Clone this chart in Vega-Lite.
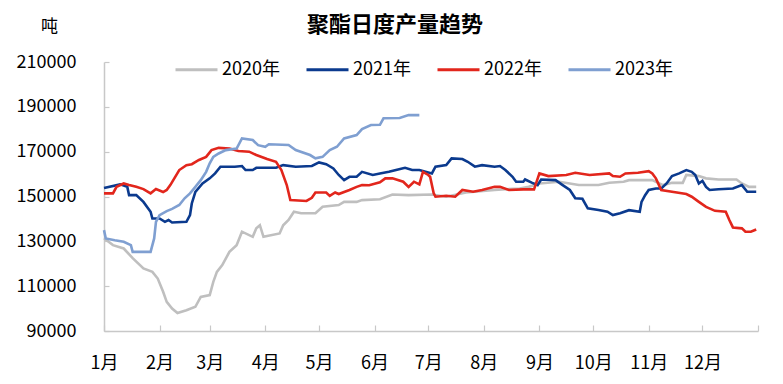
{
"$schema": "https://vega.github.io/schema/vega-lite/v6.json",
"width": 654, "height": 269,
"autosize": {"type": "none"},
"padding": {"left": 104, "top": 62, "right": 25, "bottom": 53},
"title": {"text": "聚酯日度产量趋势", "anchor": "start", "dx": 291, "fontSize": 22, "fontWeight": "bold", "color": "#000000", "offset": -20},
"data": {"format": {"parse": {"d": "date:'%Y-%m-%d'"}}, "values": [
{"s":"2020年","d":"2021-01-01","v":131400},{"s":"2020年","d":"2021-01-06","v":128300},{"s":"2020年","d":"2021-01-12","v":126800},{"s":"2020年","d":"2021-01-17","v":122500},{"s":"2020年","d":"2021-01-23","v":117900},{"s":"2020年","d":"2021-01-28","v":116400},{"s":"2020年","d":"2021-01-31","v":113400},{"s":"2020年","d":"2021-02-03","v":107500},{"s":"2020年","d":"2021-02-05","v":103000},{"s":"2020年","d":"2021-02-08","v":100000},{"s":"2020年","d":"2021-02-11","v":98000},{"s":"2020年","d":"2021-02-16","v":99300},{"s":"2020年","d":"2021-02-21","v":100800},{"s":"2020年","d":"2021-02-24","v":105200},{"s":"2020年","d":"2021-03-01","v":106000},{"s":"2020年","d":"2021-03-03","v":111900},{"s":"2020年","d":"2021-03-05","v":116400},{"s":"2020年","d":"2021-03-08","v":119400},{"s":"2020年","d":"2021-03-12","v":125300},{"s":"2020年","d":"2021-03-16","v":128300},{"s":"2020年","d":"2021-03-19","v":134300},{"s":"2020年","d":"2021-03-25","v":132000},{"s":"2020年","d":"2021-03-27","v":135800},{"s":"2020年","d":"2021-03-29","v":137200},{"s":"2020年","d":"2021-03-31","v":132000},{"s":"2020年","d":"2021-04-09","v":133500},{"s":"2020年","d":"2021-04-11","v":137200},{"s":"2020年","d":"2021-04-14","v":139500},{"s":"2020年","d":"2021-04-17","v":143200},{"s":"2020年","d":"2021-04-21","v":142500},{"s":"2020年","d":"2021-04-29","v":142500},{"s":"2020年","d":"2021-05-03","v":145400},{"s":"2020年","d":"2021-05-12","v":146200},{"s":"2020年","d":"2021-05-15","v":147600},{"s":"2020年","d":"2021-05-22","v":147600},{"s":"2020年","d":"2021-05-25","v":148400},{"s":"2020年","d":"2021-06-04","v":148800},{"s":"2020年","d":"2021-06-11","v":150900},{"s":"2020年","d":"2021-06-20","v":150600},{"s":"2020年","d":"2021-07-03","v":150900},{"s":"2020年","d":"2021-07-11","v":149900},{"s":"2020年","d":"2021-07-22","v":151800},{"s":"2020年","d":"2021-08-07","v":152900},{"s":"2020年","d":"2021-08-21","v":153600},{"s":"2020年","d":"2021-08-26","v":154300},{"s":"2020年","d":"2021-09-01","v":155800},{"s":"2020年","d":"2021-09-12","v":156600},{"s":"2020年","d":"2021-09-23","v":155100},{"s":"2020年","d":"2021-10-04","v":155100},{"s":"2020年","d":"2021-10-10","v":156100},{"s":"2020年","d":"2021-10-18","v":156600},{"s":"2020年","d":"2021-10-21","v":157300},{"s":"2020年","d":"2021-11-03","v":157300},{"s":"2020年","d":"2021-11-09","v":155100},{"s":"2020年","d":"2021-11-14","v":156100},{"s":"2020年","d":"2021-11-20","v":156100},{"s":"2020年","d":"2021-11-22","v":159600},{"s":"2020年","d":"2021-11-29","v":159100},{"s":"2020年","d":"2021-12-03","v":158100},{"s":"2020年","d":"2021-12-10","v":157600},{"s":"2020年","d":"2021-12-20","v":157600},{"s":"2020年","d":"2021-12-23","v":155800},{"s":"2020年","d":"2021-12-27","v":154300},{"s":"2020年","d":"2021-12-31","v":154300},
{"s":"2021年","d":"2021-01-01","v":153800},{"s":"2021年","d":"2021-01-10","v":155400},{"s":"2021年","d":"2021-01-14","v":154300},{"s":"2021年","d":"2021-01-15","v":150600},{"s":"2021年","d":"2021-01-19","v":150600},{"s":"2021年","d":"2021-01-23","v":147600},{"s":"2021年","d":"2021-01-27","v":143200},{"s":"2021年","d":"2021-01-28","v":140200},{"s":"2021年","d":"2021-02-01","v":140200},{"s":"2021年","d":"2021-02-04","v":138700},{"s":"2021年","d":"2021-02-06","v":139500},{"s":"2021年","d":"2021-02-08","v":138400},{"s":"2021年","d":"2021-02-16","v":138700},{"s":"2021年","d":"2021-02-18","v":141700},{"s":"2021年","d":"2021-02-19","v":146900},{"s":"2021年","d":"2021-02-21","v":152100},{"s":"2021年","d":"2021-02-25","v":155800},{"s":"2021年","d":"2021-03-01","v":158100},{"s":"2021年","d":"2021-03-04","v":160300},{"s":"2021年","d":"2021-03-07","v":163300},{"s":"2021年","d":"2021-03-15","v":163300},{"s":"2021年","d":"2021-03-19","v":163600},{"s":"2021年","d":"2021-03-21","v":161800},{"s":"2021年","d":"2021-03-25","v":161800},{"s":"2021年","d":"2021-03-27","v":162800},{"s":"2021年","d":"2021-04-07","v":162800},{"s":"2021年","d":"2021-04-11","v":164000},{"s":"2021年","d":"2021-04-18","v":163300},{"s":"2021年","d":"2021-04-27","v":163600},{"s":"2021年","d":"2021-05-01","v":165200},{"s":"2021年","d":"2021-05-05","v":164400},{"s":"2021年","d":"2021-05-09","v":162500},{"s":"2021年","d":"2021-05-12","v":159600},{"s":"2021年","d":"2021-05-15","v":157300},{"s":"2021年","d":"2021-05-18","v":158800},{"s":"2021年","d":"2021-05-22","v":158800},{"s":"2021年","d":"2021-05-25","v":161000},{"s":"2021年","d":"2021-05-31","v":159600},{"s":"2021年","d":"2021-06-04","v":160300},{"s":"2021年","d":"2021-06-09","v":161000},{"s":"2021年","d":"2021-06-13","v":161800},{"s":"2021年","d":"2021-06-18","v":162800},{"s":"2021年","d":"2021-06-22","v":161800},{"s":"2021年","d":"2021-06-26","v":161800},{"s":"2021年","d":"2021-07-03","v":160300},{"s":"2021年","d":"2021-07-05","v":163300},{"s":"2021年","d":"2021-07-11","v":164000},{"s":"2021年","d":"2021-07-14","v":167000},{"s":"2021年","d":"2021-07-20","v":166700},{"s":"2021年","d":"2021-07-23","v":165500},{"s":"2021年","d":"2021-07-27","v":163300},{"s":"2021年","d":"2021-07-31","v":164000},{"s":"2021年","d":"2021-08-07","v":163300},{"s":"2021年","d":"2021-08-10","v":163600},{"s":"2021年","d":"2021-08-13","v":161800},{"s":"2021年","d":"2021-08-17","v":158800},{"s":"2021年","d":"2021-08-19","v":156600},{"s":"2021年","d":"2021-08-23","v":156600},{"s":"2021年","d":"2021-08-24","v":157600},{"s":"2021年","d":"2021-08-28","v":156100},{"s":"2021年","d":"2021-08-31","v":155100},{"s":"2021年","d":"2021-09-02","v":157600},{"s":"2021年","d":"2021-09-10","v":157300},{"s":"2021年","d":"2021-09-14","v":155100},{"s":"2021年","d":"2021-09-18","v":152900},{"s":"2021年","d":"2021-09-21","v":149200},{"s":"2021年","d":"2021-09-25","v":149000},{"s":"2021年","d":"2021-09-28","v":144700},{"s":"2021年","d":"2021-10-04","v":144000},{"s":"2021年","d":"2021-10-09","v":143200},{"s":"2021年","d":"2021-10-12","v":141700},{"s":"2021年","d":"2021-10-16","v":142500},{"s":"2021年","d":"2021-10-21","v":143900},{"s":"2021年","d":"2021-10-27","v":143200},{"s":"2021年","d":"2021-10-28","v":147600},{"s":"2021年","d":"2021-10-30","v":150600},{"s":"2021年","d":"2021-11-01","v":152900},{"s":"2021年","d":"2021-11-05","v":153600},{"s":"2021年","d":"2021-11-08","v":153600},{"s":"2021年","d":"2021-11-11","v":155800},{"s":"2021年","d":"2021-11-14","v":159100},{"s":"2021年","d":"2021-11-18","v":160300},{"s":"2021年","d":"2021-11-22","v":161800},{"s":"2021年","d":"2021-11-25","v":161000},{"s":"2021年","d":"2021-11-27","v":159600},{"s":"2021年","d":"2021-11-29","v":155800},{"s":"2021年","d":"2021-12-01","v":157000},{"s":"2021年","d":"2021-12-03","v":154300},{"s":"2021年","d":"2021-12-05","v":152900},{"s":"2021年","d":"2021-12-10","v":153200},{"s":"2021年","d":"2021-12-18","v":153600},{"s":"2021年","d":"2021-12-23","v":155100},{"s":"2021年","d":"2021-12-26","v":152100},{"s":"2021年","d":"2021-12-31","v":152100},
{"s":"2022年","d":"2021-01-01","v":151400},{"s":"2022年","d":"2021-01-06","v":151400},{"s":"2022年","d":"2021-01-08","v":154300},{"s":"2022年","d":"2021-01-12","v":155800},{"s":"2022年","d":"2021-01-15","v":155100},{"s":"2022年","d":"2021-01-19","v":154300},{"s":"2022年","d":"2021-01-23","v":153300},{"s":"2022年","d":"2021-01-27","v":151400},{"s":"2022年","d":"2021-01-30","v":153300},{"s":"2022年","d":"2021-02-03","v":152000},{"s":"2022年","d":"2021-02-05","v":152900},{"s":"2022年","d":"2021-02-07","v":155100},{"s":"2022年","d":"2021-02-12","v":161800},{"s":"2022年","d":"2021-02-16","v":164000},{"s":"2022年","d":"2021-02-19","v":164400},{"s":"2022年","d":"2021-02-23","v":166300},{"s":"2022年","d":"2021-02-27","v":167700},{"s":"2022年","d":"2021-03-02","v":170700},{"s":"2022年","d":"2021-03-06","v":171700},{"s":"2022年","d":"2021-03-12","v":171400},{"s":"2022年","d":"2021-03-17","v":170300},{"s":"2022年","d":"2021-03-23","v":170000},{"s":"2022年","d":"2021-03-27","v":168500},{"s":"2022年","d":"2021-04-02","v":166700},{"s":"2022年","d":"2021-04-07","v":165500},{"s":"2022年","d":"2021-04-10","v":161800},{"s":"2022年","d":"2021-04-13","v":155100},{"s":"2022年","d":"2021-04-15","v":148400},{"s":"2022年","d":"2021-04-24","v":148000},{"s":"2022年","d":"2021-04-27","v":149400},{"s":"2022年","d":"2021-04-29","v":151800},{"s":"2022年","d":"2021-05-05","v":151800},{"s":"2022年","d":"2021-05-07","v":150300},{"s":"2022年","d":"2021-05-10","v":151800},{"s":"2022年","d":"2021-05-12","v":151100},{"s":"2022年","d":"2021-05-18","v":152900},{"s":"2022年","d":"2021-05-22","v":154300},{"s":"2022年","d":"2021-05-25","v":155100},{"s":"2022年","d":"2021-05-29","v":155000},{"s":"2022年","d":"2021-06-04","v":156300},{"s":"2022年","d":"2021-06-07","v":158100},{"s":"2022年","d":"2021-06-11","v":158100},{"s":"2022年","d":"2021-06-17","v":156600},{"s":"2022年","d":"2021-06-20","v":154300},{"s":"2022年","d":"2021-06-23","v":156600},{"s":"2022年","d":"2021-06-26","v":155400},{"s":"2022年","d":"2021-06-28","v":161000},{"s":"2022年","d":"2021-07-01","v":159600},{"s":"2022年","d":"2021-07-02","v":158800},{"s":"2022年","d":"2021-07-04","v":151400},{"s":"2022年","d":"2021-07-05","v":149900},{"s":"2022年","d":"2021-07-11","v":150300},{"s":"2022年","d":"2021-07-16","v":149900},{"s":"2022年","d":"2021-07-20","v":152900},{"s":"2022年","d":"2021-07-26","v":152100},{"s":"2022年","d":"2021-07-31","v":152900},{"s":"2022年","d":"2021-08-07","v":154300},{"s":"2022年","d":"2021-08-10","v":154300},{"s":"2022年","d":"2021-08-15","v":152900},{"s":"2022年","d":"2021-08-23","v":153200},{"s":"2022年","d":"2021-08-29","v":153200},{"s":"2022年","d":"2021-09-01","v":160300},{"s":"2022年","d":"2021-09-06","v":159100},{"s":"2022年","d":"2021-09-16","v":159600},{"s":"2022年","d":"2021-09-21","v":160600},{"s":"2022年","d":"2021-09-29","v":159600},{"s":"2022年","d":"2021-10-10","v":160300},{"s":"2022年","d":"2021-10-12","v":159100},{"s":"2022年","d":"2021-10-16","v":158800},{"s":"2022年","d":"2021-10-19","v":160300},{"s":"2022年","d":"2021-10-26","v":160600},{"s":"2022年","d":"2021-11-01","v":161300},{"s":"2022年","d":"2021-11-03","v":160300},{"s":"2022年","d":"2021-11-05","v":158100},{"s":"2022年","d":"2021-11-08","v":152900},{"s":"2022年","d":"2021-11-14","v":152100},{"s":"2022年","d":"2021-11-22","v":151100},{"s":"2022年","d":"2021-11-25","v":149900},{"s":"2022年","d":"2021-11-29","v":147600},{"s":"2022年","d":"2021-12-03","v":145400},{"s":"2022年","d":"2021-12-08","v":143600},{"s":"2022年","d":"2021-12-14","v":143200},{"s":"2022年","d":"2021-12-16","v":139500},{"s":"2022年","d":"2021-12-18","v":136200},{"s":"2022年","d":"2021-12-23","v":135800},{"s":"2022年","d":"2021-12-25","v":134300},{"s":"2022年","d":"2021-12-28","v":134300},{"s":"2022年","d":"2021-12-31","v":135300},
{"s":"2023年","d":"2021-01-01","v":135000},{"s":"2023年","d":"2021-01-02","v":131300},{"s":"2023年","d":"2021-01-07","v":130500},{"s":"2023年","d":"2021-01-12","v":129800},{"s":"2023年","d":"2021-01-16","v":128300},{"s":"2023年","d":"2021-01-17","v":125300},{"s":"2023年","d":"2021-01-27","v":125300},{"s":"2023年","d":"2021-01-29","v":131300},{"s":"2023年","d":"2021-01-30","v":138700},{"s":"2023年","d":"2021-02-01","v":141700},{"s":"2023年","d":"2021-02-05","v":143500},{"s":"2023年","d":"2021-02-08","v":144500},{"s":"2023年","d":"2021-02-12","v":146200},{"s":"2023年","d":"2021-02-15","v":149200},{"s":"2023年","d":"2021-02-18","v":151400},{"s":"2023年","d":"2021-02-21","v":154300},{"s":"2023年","d":"2021-02-24","v":157300},{"s":"2023年","d":"2021-02-27","v":161000},{"s":"2023年","d":"2021-03-01","v":164800},{"s":"2023年","d":"2021-03-03","v":167700},{"s":"2023年","d":"2021-03-06","v":169200},{"s":"2023年","d":"2021-03-10","v":170700},{"s":"2023年","d":"2021-03-16","v":171400},{"s":"2023年","d":"2021-03-19","v":175900},{"s":"2023年","d":"2021-03-25","v":175200},{"s":"2023年","d":"2021-03-28","v":172900},{"s":"2023年","d":"2021-04-01","v":172200},{"s":"2023年","d":"2021-04-03","v":173300},{"s":"2023年","d":"2021-04-14","v":173000},{"s":"2023年","d":"2021-04-18","v":170700},{"s":"2023年","d":"2021-04-26","v":168500},{"s":"2023年","d":"2021-04-29","v":167000},{"s":"2023年","d":"2021-05-03","v":167700},{"s":"2023年","d":"2021-05-07","v":170700},{"s":"2023年","d":"2021-05-11","v":172200},{"s":"2023年","d":"2021-05-15","v":175900},{"s":"2023年","d":"2021-05-22","v":177400},{"s":"2023年","d":"2021-05-25","v":180100},{"s":"2023年","d":"2021-05-30","v":181900},{"s":"2023年","d":"2021-06-04","v":182000},{"s":"2023年","d":"2021-06-06","v":184900},{"s":"2023年","d":"2021-06-15","v":185000},{"s":"2023年","d":"2021-06-20","v":186300},{"s":"2023年","d":"2021-06-26","v":186300}
]},
"mark": {"type": "line", "strokeWidth": 2.6, "interpolate": "linear"},
"encoding": {
  "x": {"field": "d", "type": "temporal",
    "scale": {"domain": [{"year": 2021, "month": 1, "date": 1}, {"year": 2022, "month": 1, "date": 1}]},
    "axis": {"values": [{"year":2021,"month":1,"date":1},{"year":2021,"month":2,"date":1},{"year":2021,"month":3,"date":1},{"year":2021,"month":4,"date":1},{"year":2021,"month":5,"date":1},{"year":2021,"month":6,"date":1},{"year":2021,"month":7,"date":1},{"year":2021,"month":8,"date":1},{"year":2021,"month":9,"date":1},{"year":2021,"month":10,"date":1},{"year":2021,"month":11,"date":1},{"year":2021,"month":12,"date":1},{"year":2022,"month":1,"date":1}],
      "labelExpr": "year(datum.value) > 2021 ? '' : (month(datum.value) + 1) + '月'",
      "title": null, "grid": false, "tickSize": -6, "labelPadding": 29, "labelFontSize": 18, "labelColor": "#000000",
      "domainColor": "#C8C8C8", "tickColor": "#C8C8C8", "domainWidth": 1.5, "tickWidth": 1.2, "labelAlign": "center", "labelFlush": false, "labelOverlap": false}},
  "y": {"field": "v", "type": "quantitative",
    "scale": {"domain": [90000, 210000], "nice": false, "zero": false},
    "axis": {"values": [90000, 110000, 130000, 150000, 170000, 190000, 210000], "format": "d",
      "title": "吨", "titleAngle": 0, "titleX": -55, "titleY": -36, "titleAlign": "center", "titleBaseline": "middle", "titleFontSize": 17, "titleFontWeight": "normal", "titleColor": "#000000",
      "grid": false, "tickSize": -5, "labelPadding": 33, "labelFontSize": 18, "labelColor": "#000000",
      "domainColor": "#C8C8C8", "tickColor": "#C8C8C8", "domainWidth": 1.5, "tickWidth": 1.2}},
  "color": {"field": "s", "type": "nominal",
    "scale": {"domain": ["2020年", "2021年", "2022年", "2023年"], "range": ["#BFBFBF", "#0B3A8E", "#E2261C", "#7F9FD1"]},
    "legend": {"orient": "none", "legendX": 70, "legendY": -15, "direction": "horizontal", "title": null,
      "symbolType": "stroke", "symbolSize": 1764, "symbolStrokeWidth": 3, "labelFontSize": 18, "labelOffset": 3, "columnPadding": 20, "labelColor": "#000000"}}
},
"config": {"view": {"stroke": null}, "font": "Noto Sans CJK SC"}
}
